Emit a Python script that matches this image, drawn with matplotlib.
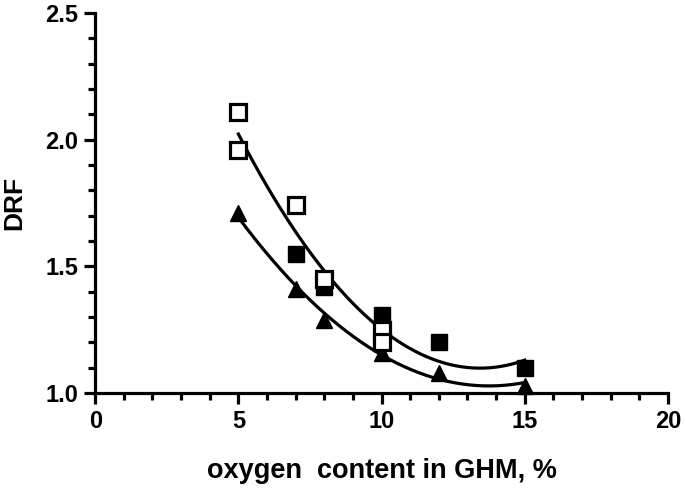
import numpy as np
import matplotlib
matplotlib.use("Agg")
import matplotlib.pyplot as plt
from matplotlib.ticker import MultipleLocator

plt.rcParams['font.family'] = ['Liberation Sans', 'DejaVu Sans']
plt.rcParams['font.weight'] = 'bold'

open_x = [5, 5, 7, 8, 10, 10]
open_y = [2.11, 1.96, 1.74, 1.45, 1.25, 1.20]
filled_x = [7, 8, 10, 12, 15]
filled_y = [1.55, 1.42, 1.31, 1.20, 1.10]
tri_x = [5, 7, 8, 10, 12, 15]
tri_y = [1.71, 1.41, 1.29, 1.16, 1.08, 1.03]

fig = plt.figure(figsize=(6.85, 4.92), dpi=100)
ax = fig.add_axes([0.139, 0.201, 0.836, 0.773])

# quadratic fits
sq_x = np.array(open_x + filled_x, dtype=float)
sq_y = np.array(open_y + filled_y)
c1 = np.polyfit(sq_x, sq_y, 2)
c2 = np.polyfit(np.array(tri_x, float), np.array(tri_y), 2)
xs = np.linspace(5, 15, 200)
ax.plot(xs, np.polyval(c1, xs), color='black', lw=2.3, zorder=2)
ax.plot(xs, np.polyval(c2, xs), color='black', lw=2.3, zorder=2)

ax.plot(filled_x, filled_y, 's', color='black', ms=11, zorder=3, clip_on=False)
ax.plot(tri_x, tri_y, '^', color='black', ms=11, zorder=3, clip_on=False)
ax.plot(open_x, open_y, 's', mfc='white', mec='black', mew=2.3, ms=11, zorder=4, clip_on=False)

ax.set_xlim(0, 20)
ax.set_ylim(1.0, 2.5)
ax.xaxis.set_major_locator(MultipleLocator(5))
ax.xaxis.set_minor_locator(MultipleLocator(1))
ax.yaxis.set_major_locator(MultipleLocator(0.5))
ax.yaxis.set_minor_locator(MultipleLocator(0.1))
ax.yaxis.set_major_formatter(matplotlib.ticker.FormatStrFormatter('%.1f'))

for s in ['top', 'right']:
    ax.spines[s].set_visible(False)
for s in ['left', 'bottom']:
    ax.spines[s].set_linewidth(2.3)

ax.tick_params(which='major', length=8, width=2.3, labelsize=17, pad=4)
ax.tick_params(which='minor', length=5, width=2.3)

ax.set_xlabel('oxygen  content in GHM, %', fontsize=19.5, fontweight='bold', labelpad=18)
ax.set_ylabel('DRF', fontsize=19, fontweight='bold', labelpad=14)

fig.savefig('out.png', dpi=100)
